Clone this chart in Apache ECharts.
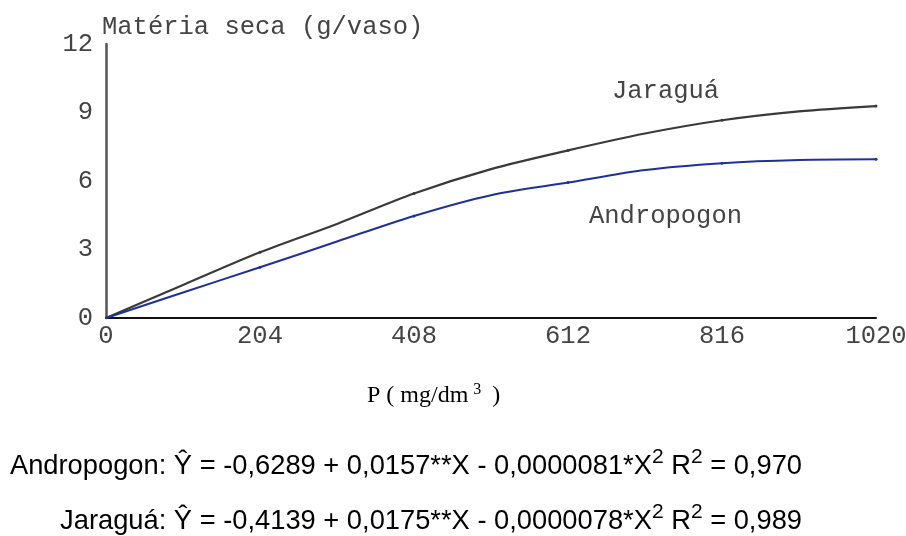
<!DOCTYPE html>
<html>
<head>
<meta charset="utf-8">
<script src="https://cdn.jsdelivr.net/npm/echarts@6.0.0/dist/echarts.min.js"></script>
<style>
  html, body { margin: 0; padding: 0; background: #fff; }
  #chart { width: 906px; height: 536px; }
</style>
</head>
<body>
<div id="chart"></div>
<script>
// doses de P (mg/dm3)
const pDoses = [0, 102, 204, 306, 408, 510, 612, 714, 816, 918, 1020]
// matéria seca (g/vaso)
const jaragua = [0, 1.45, 2.88, 4.12, 5.45, 6.52, 7.34, 8.08, 8.66, 9.05, 9.28]
const andropogon = [0, 1.12, 2.22, 3.35, 4.47, 5.38, 5.93, 6.48, 6.78, 6.92, 6.95]
// eixos
const xMax = 1020
const xStep = 204
const yMax = 12
const yStep = 3

const mono = '"Liberation Mono", "DejaVu Sans Mono", monospace'
const sans = '"Liberation Sans", Arial, sans-serif'
const serif = '"Liberation Serif", "Times New Roman", serif'
const monoSize = 25.5

const toPairs = (ys) => pDoses.map((x, i) => [x, ys[i]])
// pequenos marcadores só nos ticks
const markSize = (v) => (v[0] > 0 && v[0] % xStep === 0 ? 3 : 0)

const chart = echarts.init(document.getElementById('chart'))

// equações (rich text com sobrescritos)
const eqRich = {
  t: { fontFamily: sans, fontSize: 27.3, color: '#111' },
  s: { fontFamily: sans, fontSize: 21, color: '#111', padding: [0, 0, 17, 0] }
}
const eqText = (name, a, b, c, r2) =>
  `{t|${name}: Ŷ = ${a} + ${b}**X - ${c}*X}{s|2}{t| R}{s|2}{t| = ${r2}}`

const option = {
  animation: false,
  backgroundColor: '#fff',
  grid: { left: 106, right: 30, top: 44, bottom: 218, containLabel: false, outerBoundsMode: 'none' },
  xAxis: {
    type: 'value',
    min: 0,
    max: xMax,
    interval: xStep,
    axisLine: { show: true, lineStyle: { color: '#111', width: 2 } },
    axisTick: { show: false },
    splitLine: { show: false },
    axisLabel: { fontFamily: mono, fontSize: monoSize, color: '#444', margin: 5, formatter: (v) => String(v) }
  },
  yAxis: {
    type: 'value',
    min: 0,
    max: yMax,
    interval: yStep,
    name: 'Matéria seca (g/vaso)',
    nameLocation: 'end',
    nameGap: 4,
    nameTextStyle: { fontFamily: mono, fontSize: monoSize, color: '#444', align: 'left', padding: [0, 0, 0, -4] },
    axisLine: { show: true, lineStyle: { color: '#555', width: 2.5 } },
    axisTick: { show: false },
    splitLine: { show: false },
    axisLabel: { fontFamily: mono, fontSize: monoSize, color: '#444', margin: 13 }
  },
  series: [
    {
      name: 'Jaraguá',
      type: 'line',
      data: toPairs(jaragua),
      smooth: 0.3,
      symbol: 'circle',
      symbolSize: markSize,
      itemStyle: { color: '#3a3a3a' },
      lineStyle: { color: '#3a3a3a', width: 2.2 }
    },
    {
      name: 'Andropogon',
      type: 'line',
      data: toPairs(andropogon),
      smooth: 0.3,
      symbol: 'circle',
      symbolSize: markSize,
      itemStyle: { color: '#1f3199' },
      lineStyle: { color: '#1f3199', width: 2 }
    }
  ],
  graphic: [
    // rótulos das curvas
    {
      type: 'text', left: 612, top: 78,
      style: { text: 'Jaraguá', font: monoSize + 'px ' + mono, fill: '#444' }
    },
    {
      type: 'text', left: 589, top: 203,
      style: { text: 'Andropogon', font: monoSize + 'px ' + mono, fill: '#444' }
    },
    // título do eixo x
    {
      type: 'text', left: 367, top: 382,
      style: {
        text: '{a|P ( mg/dm}{b|3}{a| )}',
        rich: {
          a: { fontFamily: serif, fontSize: 24, color: '#111' },
          b: { fontFamily: serif, fontSize: 16, color: '#111', padding: [0, 5, 12, 5] }
        }
      }
    },
    // equações de regressão
    {
      type: 'text', right: 104, top: 447,
      style: { text: eqText('Andropogon', '-0,6289', '0,0157', '0,0000081', '0,970'), rich: eqRich, align: 'right' }
    },
    {
      type: 'text', right: 104, top: 502,
      style: { text: eqText('Jaraguá', '-0,4139', '0,0175', '0,0000078', '0,989'), rich: eqRich, align: 'right' }
    }
  ]
}

chart.setOption(option)
</script>
</body>
</html>
